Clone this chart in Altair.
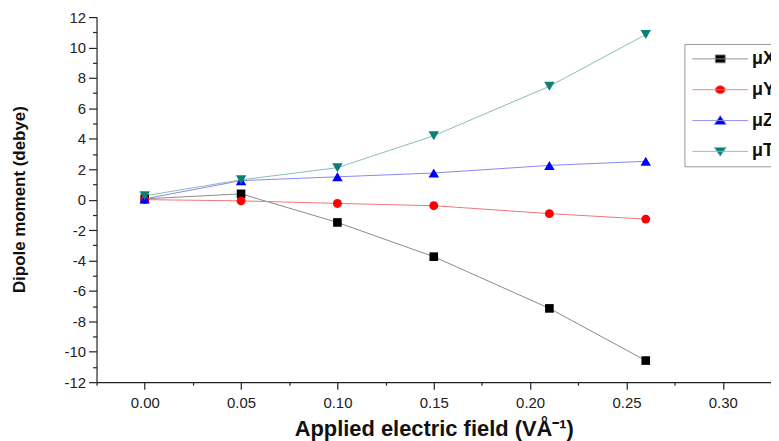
import altair as alt
import pandas as pd

# ---- data ----
field = [0.00, 0.05, 0.10, 0.15, 0.21, 0.26]
mu_x = [0.05, 0.38, -1.50, -3.75, -7.15, -10.58]
mu_y = [0.00, -0.08, -0.25, -0.40, -0.92, -1.28]
mu_z = [0.05, 1.25, 1.50, 1.75, 2.25, 2.52]
mu_t = [0.25, 1.30, 2.10, 4.20, 7.45, 10.85]
series_names = ["μX", "μY", "μZ", "μT"]
x_ticks = [round(-0.025 + 0.025 * i, 3) for i in range(15)]
y_ticks = list(range(-12, 13))

# ---- styles ----
marker_colors = ["#000000", "#ff0000", "#0000ff", "#0a8078"]
line_colors = ["#8a8a8a", "#ee7777", "#8888ee", "#88bbbb"]
marker_shapes = ["square", "circle", "triangle-up", "triangle-down"]
marker_sizes = [75, 80, 110, 110]
legend_paths = [
    "M-5.6,0H5.6M-1,-0.8H1V0.8H-1Z",
    "M-5.6,0H5.6M-1,0A1,0.8 0 1,0 1,0A1,0.8 0 1,0 -1,0Z",
    "M-5.6,0H5.6M0,-1L1.2,0.8H-1.2Z",
    "M-5.6,0H5.6M0,1L1.2,-0.8H-1.2Z",
]

rows = []
for i, (name, vals) in enumerate(zip(series_names, [mu_x, mu_y, mu_z, mu_t])):
    for f, v in zip(field, vals):
        rows.append({"field": f, "value": v, "series": name,
                     "mcolor": marker_colors[i], "lcolor": line_colors[i],
                     "shape": marker_shapes[i], "size": marker_sizes[i]})
df = pd.DataFrame(rows)
legend_df = pd.DataFrame({"series": series_names})

FONT = "Liberation Sans, Arial, sans-serif"

x_enc = alt.X(
    "field:Q",
    scale=alt.Scale(domain=[-0.025, 0.325], nice=False, zero=False),
    axis=alt.Axis(
        values=x_ticks,
        labelExpr="abs(round(datum.value*40)) % 2 == 1 ? '' : format(datum.value, '.2f')",
        tickSize={"condition": {"test": "abs(round(datum.value*40)) % 2 == 1", "value": 3}, "value": 7},
        title="Applied electric field (VÅ⁻¹)",
        titleFont=FONT, titleFontSize=22, titleFontWeight="bold", titleColor="#111",
        titlePadding=9,
        labelFont=FONT, labelFontSize=15, labelColor="#222", labelPadding=6,
        labelFlush=False, labelOverlap=False,
        grid=False, domainColor="#222", tickColor="#222", domainWidth=1.2, tickWidth=1.2,
    ),
)
y_enc = alt.Y(
    "value:Q",
    scale=alt.Scale(domain=[-12, 12], nice=False),
    axis=alt.Axis(
        values=y_ticks,
        labelExpr="abs(datum.value) % 2 == 1 ? '' : '' + datum.value",
        tickSize={"condition": {"test": "abs(datum.value) % 2 == 1", "value": 4}, "value": 8},
        title="Dipole moment (debye)",
        titleFont=FONT, titleFontSize=17, titleFontWeight="bold", titleColor="#111",
        titleX=-77, titleY=183, titleBaseline="middle", titleAngle=-90,
        labelFont=FONT, labelFontSize=15, labelColor="#222", labelPadding=3,
        labelFlush=False, labelOverlap=False,
        grid=False, domainColor="#222", tickColor="#222", domainWidth=1.2, tickWidth=1.2,
    ),
)

lines = alt.Chart(df).mark_line(strokeWidth=1).encode(
    x=x_enc, y=y_enc,
    detail="series:N",
    color=alt.Color("lcolor:N", scale=None),
    order=alt.Order("field:Q"),
)

points = alt.Chart(df).mark_point(filled=True, opacity=1).encode(
    x=x_enc, y=y_enc,
    color=alt.Color("mcolor:N", scale=None),
    shape=alt.Shape("shape:N", scale=None),
    size=alt.Size("size:Q", scale=None),
)

leg = alt.Legend(
    title=None, orient="none", legendX=591, legendY=27,
    labelFont=FONT, labelFontSize=18, labelFontWeight="bold", labelColor="#111",
    symbolSize=100, symbolStrokeWidth=0.9, symbolOffset=21,
    labelOffset=23, rowPadding=13, padding=6,
    strokeColor="#999", fillColor="white", cornerRadius=0,
)
legend_layer = alt.Chart(legend_df).mark_point(filled=True, opacity=1, strokeWidth=0.9).encode(
    shape=alt.Shape("series:N", scale=alt.Scale(domain=series_names, range=legend_paths), legend=leg),
    color=alt.Color("series:N", scale=alt.Scale(domain=series_names, range=marker_colors), legend=leg),
    stroke=alt.Stroke("series:N", scale=alt.Scale(domain=series_names, range=line_colors), legend=leg),
).transform_filter("false")

chart = alt.layer(lines, points, legend_layer).properties(
    width=678, height=367,
    autosize=alt.AutoSizeParams(type="none"),
    padding={"left": 89, "top": 8, "right": 0, "bottom": 58},
    background="white",
).configure_view(stroke=None)

chart.save("out.html", embed_options={"renderer": "svg", "actions": False})
